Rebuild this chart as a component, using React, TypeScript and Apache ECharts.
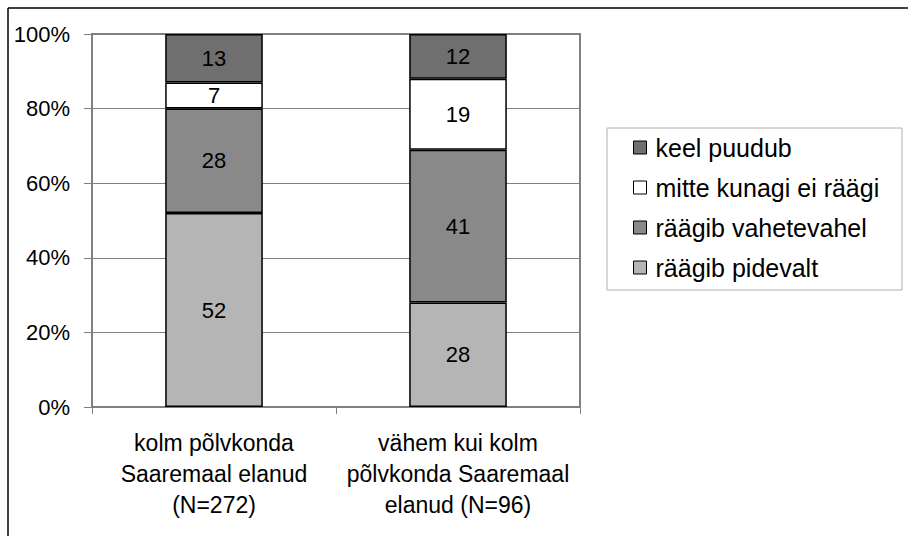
import React, { useEffect, useRef } from "react";
import * as echarts from "echarts";

const categories = [
  "kolm põlvkonda\nSaaremaal elanud\n(N=272)",
  "vähem kui kolm\npõlvkonda Saaremaal\nelanud (N=96)",
];
const seriesNames = [
  "räägib pidevalt",
  "räägib vahetevahel",
  "mitte kunagi ei räägi",
  "keel puudub",
];
const pidevalt = [52, 28];
const vahetevahel = [28, 41];
const mitteKunagi = [7, 19];
const keelPuudub = [13, 12];
const legendOrder = [
  "keel puudub",
  "mitte kunagi ei räägi",
  "räägib vahetevahel",
  "räägib pidevalt",
];
const colors = ["#b5b5b5", "#898989", "#ffffff", "#6f6f6f"];

const FONT = "'Liberation Sans', Arial, sans-serif";

export default function App() {
  const ref = useRef<HTMLDivElement>(null);
  useEffect(() => {
    if (!ref.current) return;
    const chart = echarts.init(ref.current, undefined, { renderer: "svg" });
    const values = [pidevalt, vahetevahel, mitteKunagi, keelPuudub];
    chart.setOption({
      animation: false,
      backgroundColor: "#ffffff",
      textStyle: { fontFamily: FONT },
      grid: {
        left: 92,
        right: 328,
        top: 34,
        bottom: 129,
        show: true,
        borderColor: "#808080",
        borderWidth: 2,
        backgroundColor: "transparent",
      },
      legend: {
        orient: "vertical",
        left: 633,
        top: 135,
        padding: 0,
        icon: "rect",
        itemWidth: 13,
        itemHeight: 13,
        itemGap: 15,
        data: legendOrder,
        textStyle: {
          fontSize: 25,
          color: "#000",
          fontFamily: FONT,
          padding: [0, 0, 0, 4],
        },
        itemStyle: { borderColor: "#000", borderWidth: 1 },
      },
      xAxis: {
        type: "category",
        data: categories,
        axisLine: { lineStyle: { color: "#808080", width: 1 } },
        axisTick: { show: true, length: 7, lineStyle: { color: "#808080" } },
        axisLabel: {
          fontSize: 23,
          color: "#000",
          lineHeight: 31,
          margin: 20,
          fontFamily: FONT,
          interval: 0,
        },
      },
      yAxis: {
        type: "value",
        min: 0,
        max: 100,
        interval: 20,
        axisLine: { show: true, lineStyle: { color: "#808080", width: 1 } },
        axisTick: { show: true, length: 8, lineStyle: { color: "#808080" } },
        axisLabel: {
          formatter: "{value}%",
          fontSize: 22,
          color: "#000",
          margin: 22,
          fontFamily: FONT,
        },
        splitLine: { show: true, lineStyle: { color: "#808080", width: 1 } },
      },
      series: seriesNames.map((name, i) => ({
        name,
        type: "bar",
        stack: "total",
        barWidth: "40%",
        data: values[i],
        itemStyle: { color: colors[i], borderColor: "#000", borderWidth: 1.5 },
        label: {
          show: true,
          position: "inside",
          fontSize: 22,
          color: "#000",
          fontFamily: FONT,
        },
      })),
      graphic: [
        {
          type: "rect",
          shape: { x: 607, y: 128, width: 295, height: 162 },
          style: { fill: "none", stroke: "#b0b0b0", lineWidth: 1 },
          z: -1,
        },
        {
          type: "line",
          shape: { x1: 8, y1: 8, x2: 908, y2: 8 },
          style: { stroke: "#000", lineWidth: 1.5 },
        },
        {
          type: "line",
          shape: { x1: 8, y1: 8, x2: 8, y2: 536 },
          style: { stroke: "#000", lineWidth: 1.5 },
        },
      ],
    });
    return () => chart.dispose();
  }, []);
  return (
    <div
      ref={ref}
      style={{ position: "fixed", left: 0, top: 0, width: 908, height: 536 }}
    />
  );
}
